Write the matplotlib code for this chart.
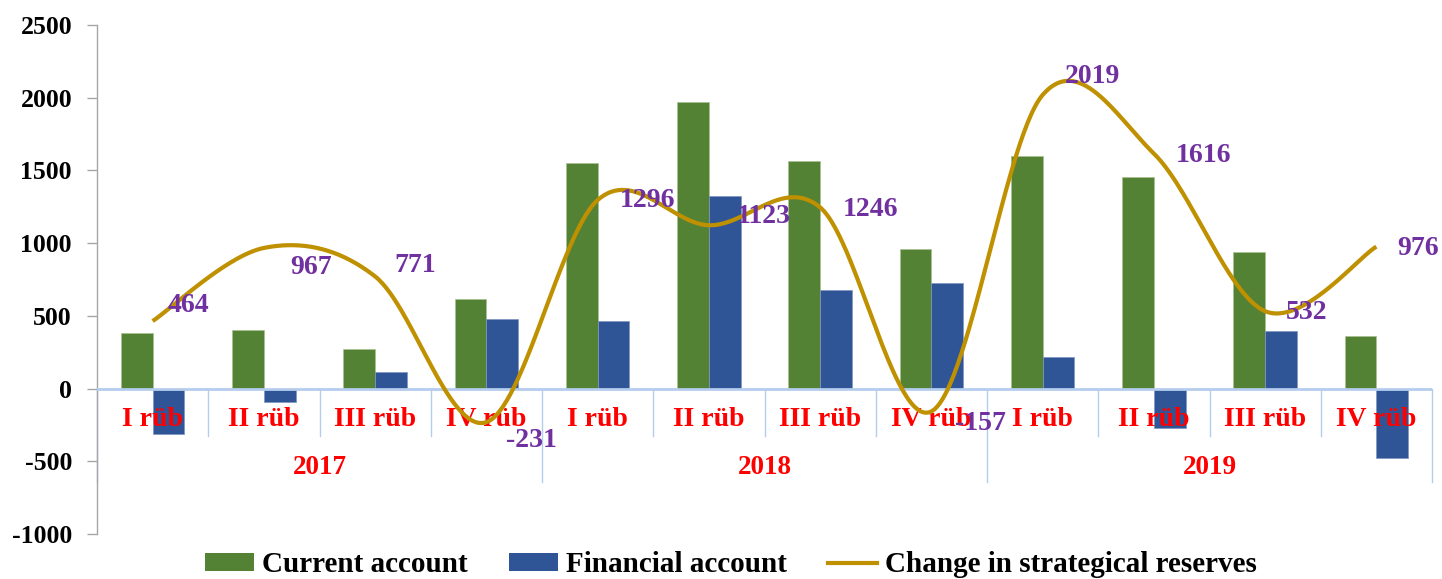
import numpy as np
import matplotlib
matplotlib.use("Agg")
import matplotlib.pyplot as plt
from matplotlib.patches import Patch
from matplotlib.lines import Line2D

# ---------------- data ----------------
quarters = ["I rüb", "II rüb", "III rüb", "IV rüb"] * 3
years = ["2017", "2018", "2019"]
current_account = [385, 405, 275, 618, 1554, 1968, 1564, 961, 1600, 1458, 941, 362]
financial_account = [-310, -90, 117, 480, 462, 1325, 675, 727, 214, -270, 398, -475]
reserves_change = [464, 967, 771, -231, 1296, 1123, 1246, -157, 2019, 1616, 532, 976]
yticks = [-1000, -500, 0, 500, 1000, 1500, 2000, 2500]

# label offsets (points) for data labels
label_dx = [11, 19, 14, 14, 16, 20, 16, 17, 16, 16, 15, 15]
label_dy = [11, -14, 8, -13, 0, 6, -1.5, -9, 13, -1.5, -1, -1]

GREEN = "#548235"
BLUE = "#2F5597"
GOLD = "#BF9000"
PURPLE = "#7030A0"
RED = "#FF0000"
SEP = "#B4CDEE"

plt.rcParams['font.family'] = ['Liberation Serif', 'DejaVu Serif']
plt.rcParams['font.weight'] = 'bold'

fig = plt.figure(figsize=(14.42, 5.79), dpi=100)
ax = fig.add_axes([97/1442, 1-534/579, (1432-97)/1442, (534-25)/579])

n = len(quarters)
x = np.arange(n)
bw = 0.286
ax.bar(x - bw/2, current_account, bw, color=GREEN, zorder=2, edgecolor='#A9C08F', linewidth=0.5)
ax.bar(x + bw/2, financial_account, bw, color=BLUE, zorder=2, edgecolor='#7F95C0', linewidth=0.5)

# smooth line (Catmull-Rom style, like spreadsheet smoothing)
yv = np.array(reserves_change, dtype=float)
xs, ys = [], []
for i in range(n - 1):
    p0 = yv[i - 1] if i > 0 else yv[i]
    p1 = yv[i]
    p2 = yv[i + 1]
    p3 = yv[i + 2] if i + 2 < n else yv[i + 1]
    x0 = x[i - 1] if i > 0 else x[i]
    x3 = x[i + 2] if i + 2 < n else x[i + 1]
    c1y = p1 + (p2 - p0) / 6
    c2y = p2 - (p3 - p1) / 6
    c1x = x[i] + (x[i + 1] - x0) / 6
    c2x = x[i + 1] - (x3 - x[i]) / 6
    t = np.linspace(0, 1, 60)
    bx = (1-t)**3*x[i] + 3*(1-t)**2*t*c1x + 3*(1-t)*t**2*c2x + t**3*x[i+1]
    by = (1-t)**3*p1 + 3*(1-t)**2*t*c1y + 3*(1-t)*t**2*c2y + t**3*p2
    xs.extend(bx); ys.extend(by)
ax.plot(xs, ys, color=GOLD, lw=3, zorder=5, solid_capstyle='butt')

for i, v in enumerate(reserves_change):
    ax.annotate(f"{v}", (x[i], v), xytext=(label_dx[i], label_dy[i]),
                textcoords='offset points', ha='left', va='center',
                color=PURPLE, fontsize=20, fontweight='bold', zorder=6,
                annotation_clip=False)

ax.set_xlim(-0.5, n - 0.5)
ax.set_ylim(-1000, 2500)
ax.set_yticks(yticks)
ax.set_yticklabels([str(t) for t in yticks], fontsize=18.5, fontweight='bold')
ax.tick_params(axis='y', length=7, width=1, color='#A6A6A6', pad=11)
ax.set_xticks([])
for s in ['top', 'right', 'bottom']:
    ax.spines[s].set_visible(False)
ax.spines['left'].set_color('#A6A6A6')
ax.spines['left'].set_linewidth(1)

# category axis at zero
ax.axhline(0, color=SEP, lw=2, zorder=3)
y_q = -215
y_year = -540
y_qsep = -323
y_ysep = -645
for i in range(n + 1):
    xb = i - 0.5
    bottom = y_ysep if i % 4 == 0 else y_qsep
    ax.plot([xb, xb], [0, bottom], color=SEP, lw=1, zorder=1, clip_on=False)
for i, q in enumerate(quarters):
    ax.text(x[i], y_q, q, ha='center', va='center', color=RED,
            fontsize=20, fontweight='bold', zorder=4)
for j, yr in enumerate(years):
    ax.text(4*j + 1.5, y_year, yr, ha='center', va='center', color=RED,
            fontsize=19.5, fontweight='bold', zorder=4)

handles = [Patch(facecolor=GREEN, edgecolor='none'),
           Patch(facecolor=BLUE, edgecolor='none'),
           Line2D([0], [0], color=GOLD, lw=3)]
labels = ["Current account", "Financial account", "Change in strategical reserves"]
fig.legend(handles, labels, loc='center', bbox_to_anchor=(731/1442, 1-565/579),
           ncol=3, frameon=False, prop={'family': 'Liberation Serif', 'weight': 'bold', 'size': 21},
           handlelength=1.7, handleheight=0.6, handletextpad=0.27, columnspacing=1.4,
           borderpad=0, borderaxespad=0)

fig.savefig("out.png", dpi=100)
